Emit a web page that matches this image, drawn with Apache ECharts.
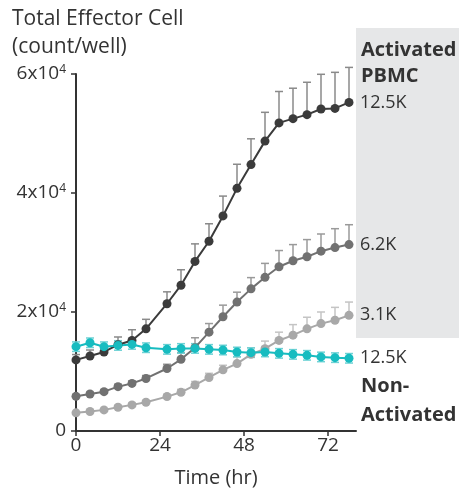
<!DOCTYPE html>
<html>
<head>
<meta charset="utf-8">
<script src="https://cdn.jsdelivr.net/npm/echarts@6/dist/echarts.min.js"></script>
<style>
html, body { margin: 0; padding: 0; background: #fff; }
#main { width: 459px; height: 493px; }
</style>
</head>
<body>
<div id="main"></div>
<script>
// time points (hr)
var times = [0, 4, 8, 12, 16, 20, 26, 30, 34, 38, 42, 46, 50, 54, 58, 62, 66, 70, 74, 78];

// activated PBMC 12.5K
var dark = [11950, 12610, 13280, 14500, 15220, 17170, 21390, 24500, 28500, 31890, 36150, 40780, 44780, 48720, 51780, 52500, 53170, 54110, 54220, 55220];
var darkErr = [900, 1000, 1000, 1300, 1800, 1600, 2000, 2600, 2950, 2940, 3330, 4050, 4330, 4840, 5280, 5110, 5440, 5840, 6060, 5890];

// activated PBMC 6.2K
var medium = [5830, 6220, 6610, 7450, 8000, 8830, 10500, 12050, 14000, 16610, 19200, 21670, 23890, 25830, 27610, 28610, 29280, 30220, 30830, 31330];
var mediumErr = [300, 300, 300, 400, 400, 500, 720, 1120, 1670, 1450, 1950, 1660, 1890, 2340, 2720, 2720, 2890, 2890, 3170, 3340];

// activated PBMC 3.1K
var light = [3050, 3280, 3550, 4000, 4390, 4830, 5780, 6500, 7720, 9000, 10280, 11330, 12880, 13830, 15220, 16110, 17170, 18050, 18610, 19440];
var lightErr = [200, 200, 200, 300, 300, 300, 400, 500, 600, 700, 770, 1110, 1110, 1280, 1390, 1770, 1950, 1950, 2170, 2230];

// non-activated 12.5K
var cyan = [14170, 14830, 14170, 14380, 14550, 14000, 13720, 13880, 13880, 13720, 13610, 13280, 13170, 13280, 13050, 12880, 12720, 12450, 12330, 12220];
var cyanErr = [800, 800, 800, 800, 800, 800, 800, 800, 800, 800, 800, 800, 800, 800, 800, 800, 800, 800, 800, 800];

var xTicks = [0, 24, 48, 72];
var endLabels = ['12.5K', '6.2K', '3.1K', '12.5K'];

var FONT = 'Open Sans';
var TXT = '#333';

function pairs(ys) {
	return times.map(function (t, i) { return [t, ys[i]]; });
}

function errData(ys, errs) {
	return times.map(function (t, i) { return [t, ys[i], errs[i]]; });
}

// error bar series, both=true draws below as well
function errSeries(ys, errs, color, both) {
	return {
		type: 'custom',
		data: errData(ys, errs),
		silent: true,
		renderItem: function (params, api) {
			var x = api.value(0), y = api.value(1), e = api.value(2);
			var top = api.coord([x, y + e]);
			var bot = api.coord([x, both ? y - e : y]);
			var half = 4;
			var st = { stroke: color, lineWidth: 1.5 };
			var kids = [
				{ type: 'line', shape: { x1: top[0], y1: top[1], x2: bot[0], y2: bot[1] }, style: st },
				{ type: 'line', shape: { x1: top[0] - half, y1: top[1], x2: top[0] + half, y2: top[1] }, style: st }
			];
			if (both) {
				kids.push({ type: 'line', shape: { x1: bot[0] - half, y1: bot[1], x2: bot[0] + half, y2: bot[1] }, style: st });
			}
			return { type: 'group', children: kids };
		}
	};
}

function lineSeries(ys, color, label) {
	return {
		type: 'line',
		data: pairs(ys),
		symbol: 'circle',
		symbolSize: 9,
		showSymbol: true,
		lineStyle: { color: color, width: 2 },
		itemStyle: { color: color },
		endLabel: {
			show: true,
			formatter: label,
			distance: 11,
			color: TXT,
			fontFamily: FONT,
			fontSize: 18
		},
		animation: false
	};
}

var chart = echarts.init(document.getElementById('main'));

chart.setOption({
	animation: false,
	grid: { left: 76, right: 103, top: 74, bottom: 59 },
	xAxis: {
		type: 'value',
		min: 0,
		max: 80,
		name: 'Time (hr)',
		nameLocation: 'middle',
		nameGap: 37,
		nameTextStyle: { color: TXT, fontFamily: FONT, fontSize: 20 },
		axisLine: { lineStyle: { color: '#333', width: 2 } },
		axisTick: { show: true, length: 5, customValues: xTicks, lineStyle: { color: '#333', width: 1.5 } },
		axisLabel: { customValues: xTicks, color: TXT, fontFamily: FONT, fontSize: 19, margin: 5 },
		splitLine: { show: false }
	},
	yAxis: {
		type: 'value',
		min: 0,
		max: 60000,
		interval: 20000,
		axisLine: { show: true, lineStyle: { color: '#333', width: 2 } },
		axisTick: { show: true, length: 5, lineStyle: { color: '#333', width: 1.5 } },
		axisLabel: {
			color: TXT,
			fontFamily: FONT,
			fontSize: 19,
			margin: 10,
			formatter: function (v) {
				if (v === 0) return '0';
				return (v / 10000) + 'x10{sup|4}';
			},
			rich: {
				sup: { fontSize: 12, fontFamily: FONT, color: TXT, verticalAlign: 'bottom', padding: [0, 0, 9, 0] }
			}
		},
		splitLine: { show: false }
	},
	graphic: [
		{ type: 'rect', z: -10, shape: { x: 356, y: 28, width: 103, height: 310 }, style: { fill: '#e6e7e8' } },
		{ type: 'text', left: 12, top: 5, style: { text: 'Total Effector Cell\n(count/well)', fill: TXT, font: '21px ' + FONT, lineHeight: 28 } },
		{ type: 'text', left: 361, top: 37, style: { text: 'Activated\nPBMC', fill: TXT, font: 'bold 20px ' + FONT, lineHeight: 26 } },
		{ type: 'text', left: 361, top: 372, style: { text: 'Non-\nActivated', fill: TXT, font: 'bold 20px ' + FONT, lineHeight: 29 } }
	],
	series: [
		errSeries(light, lightErr, '#c4c4c4', false),
		lineSeries(light, '#a8a8a8', endLabels[2]),
		errSeries(medium, mediumErr, '#9a9a9a', false),
		lineSeries(medium, '#717171', endLabels[1]),
		errSeries(dark, darkErr, '#8a8a8a', false),
		lineSeries(dark, '#3b3b3b', endLabels[0]),
		errSeries(cyan, cyanErr, '#6dd2d5', true),
		lineSeries(cyan, '#17bcc0', endLabels[3])
	]
});
</script>
</body>
</html>
